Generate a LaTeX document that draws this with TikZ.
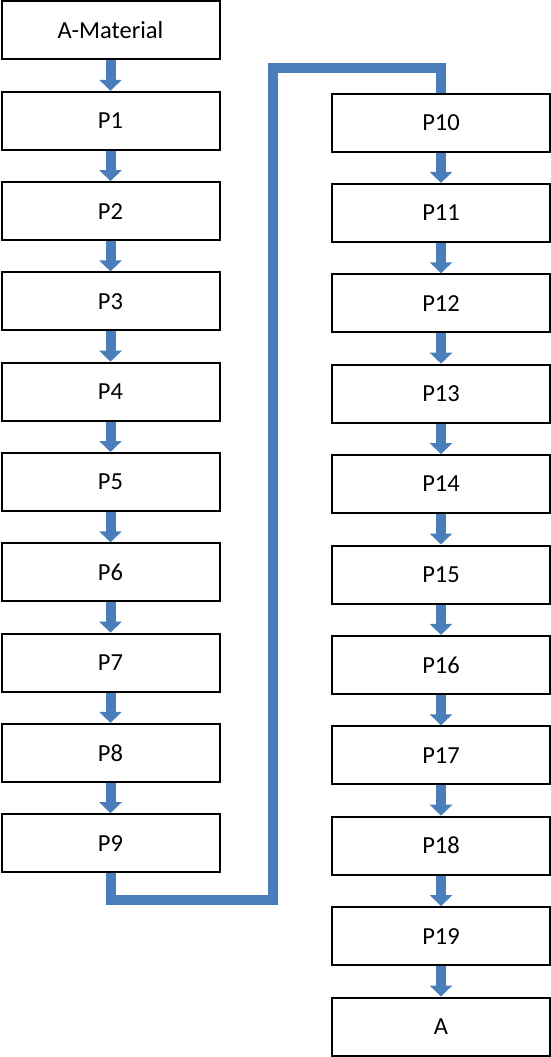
\documentclass[tikz,border=0pt]{standalone}
\usepackage{fontspec}
\setmainfont{Carlito}
\usetikzlibrary{arrows.meta}
\definecolor{blk}{RGB}{74,126,187}
\begin{document}
\begin{tikzpicture}[x=1pt,y=-1pt,
  box/.style={draw=black,line width=2pt,minimum width=218pt,minimum height=58pt,inner sep=0pt,font=\fontsize{24.5}{29}\selectfont},
  blkarrow/.style={draw=blk,line width=10pt,line cap=butt,-{Triangle[width=22pt,length=11pt]}},
  conn/.style={draw=blk,line width=10pt,line join=miter,line cap=butt}]
\useasboundingbox (0,0) rectangle (551,1057);
\node[box] (a0) at (110.5,30.5) {A-Material};
\foreach \i in {1,...,9}{
  \node[box] (p\i) at (110.5,{30.5+90.3*\i}) {P\i};
}
\foreach \i [evaluate=\i as \k using int(\i+9)] in {1,...,10}{
  \node[box] (p\k) at (441,{122.5+90.4*(\i-1)}) {P\k};
}
\node[box] (fin) at (441,{122.5+90.4*10}) {A};
\draw[blkarrow] (a0.south) -- (p1.north);
\foreach \i [evaluate=\i as \j using int(\i+1)] in {1,...,8}{
  \draw[blkarrow] (p\i.south) -- (p\j.north);
}
\foreach \i [evaluate=\i as \j using int(\i+1)] in {10,...,18}{
  \draw[blkarrow] (p\i.south) -- (p\j.north);
}
\draw[blkarrow] (p19.south) -- (fin.north);
\coordinate (c1) at (273,900);
\coordinate (c2) at (273,68);
\draw[conn] (p9.south) |- (c1) -- (c2) -| (p10.north);
\end{tikzpicture}
\end{document}
